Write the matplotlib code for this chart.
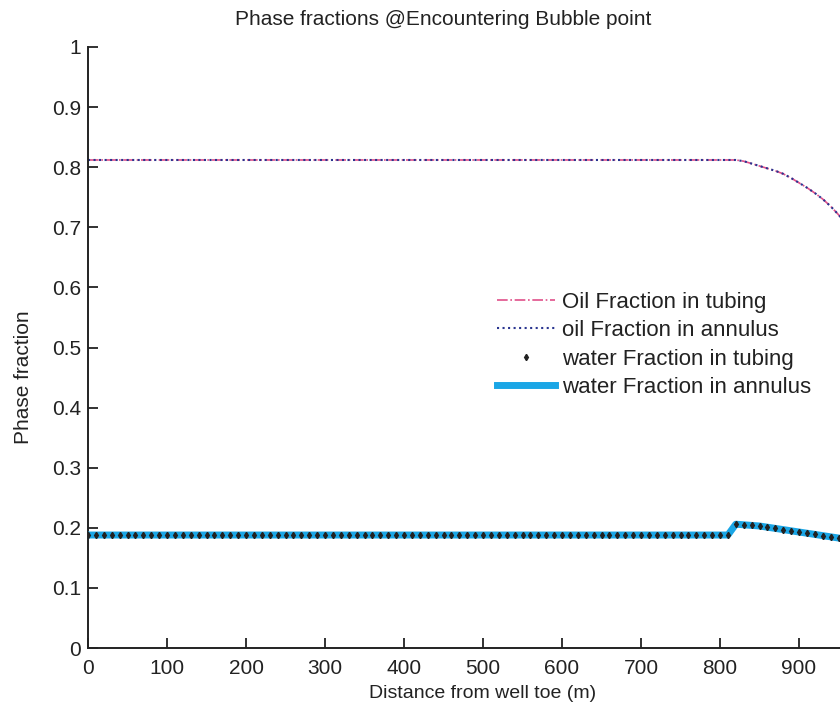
import numpy as np
import matplotlib
matplotlib.use("Agg")
import matplotlib.pyplot as plt
from matplotlib.ticker import FuncFormatter

# distance along the well (m), one sample every 10 m
dist = np.arange(0, 1001, 10)

# flat part up to 810 m, then the curve after the bubble point (820..1000 m)
oil_flat = 0.812
oil_tail = [0.812, 0.810, 0.806, 0.802, 0.798, 0.794, 0.789, 0.782, 0.774, 0.766,
            0.757, 0.747, 0.735, 0.721, 0.706, 0.690, 0.673, 0.655, 0.636]
water_flat = 0.188
water_tail = [0.206, 0.205, 0.204, 0.203, 0.201, 0.199, 0.197, 0.195, 0.193, 0.191,
              0.189, 0.187, 0.185, 0.183, 0.181, 0.179, 0.177, 0.175, 0.173]

oil_tubing = np.array([oil_flat] * 82 + oil_tail)
oil_annulus = np.array([oil_flat] * 82 + oil_tail)
water_tubing = np.array([water_flat] * 82 + water_tail)
water_annulus = np.array([water_flat] * 82 + water_tail)

labels = ["Oil Fraction in tubing", "oil Fraction in annulus",
          "water Fraction in tubing", "water Fraction in annulus"]

plt.rcParams['font.family'] = ['Liberation Sans', 'DejaVu Sans']

fig = plt.figure(figsize=(8.4, 7.13), dpi=100)
# axes run past the right edge of the picture, like the cropped original
ax = fig.add_axes([88 / 840, 65 / 713, 790 / 840, 601 / 713])

ax.plot(dist, oil_tubing, '-.', color='#e0508a', lw=1.2, label=labels[0])
ax.plot(dist, oil_annulus, ':', color='#2a3590', lw=1.5, label=labels[1])
ax.plot(dist, water_tubing, 'd', color='#222222', ms=3.2, ls='none',
        label=labels[2], zorder=4)
ax.plot(dist, water_annulus, '-', color='#1aa6e6', lw=5, label=labels[3], zorder=3)

ax.set_xlim(0, 1000)
ax.set_ylim(0, 1)
ax.set_xticks(np.arange(0, 901, 100))
ax.set_yticks(np.arange(0, 1.01, 0.1))
ax.yaxis.set_major_formatter(FuncFormatter(lambda v, p: '%g' % round(v, 1)))

for s in ['top', 'right']:
    ax.spines[s].set_visible(False)
for s in ['left', 'bottom']:
    ax.spines[s].set_linewidth(1.4)
    ax.spines[s].set_color('#222222')
ax.tick_params(direction='in', length=7, width=1.3, colors='#222222',
               labelsize=15, pad=5)
ax.tick_params(axis='x', pad=8)

ax.set_xlabel("Distance from well toe (m)", fontsize=14, color='#222222', labelpad=5)
ax.set_ylabel("Phase fraction", fontsize=15, color='#222222')
ax.yaxis.set_label_coords(-0.07, 0.45)
ax.set_title("Phase fractions @Encountering Bubble point", fontsize=15,
             color='#222222', x=(443 - 88) / 790, pad=16)

leg = ax.legend(loc='upper left', bbox_to_anchor=(488 / 840, 1 - 283 / 713),
                bbox_transform=fig.transFigure, frameon=False, fontsize=16,
                handlelength=2.6, handletextpad=0.35, labelspacing=0.33,
                numpoints=1, borderaxespad=0)
for t in leg.get_texts():
    t.set_color('#222222')

fig.savefig("out.png", dpi=100)
